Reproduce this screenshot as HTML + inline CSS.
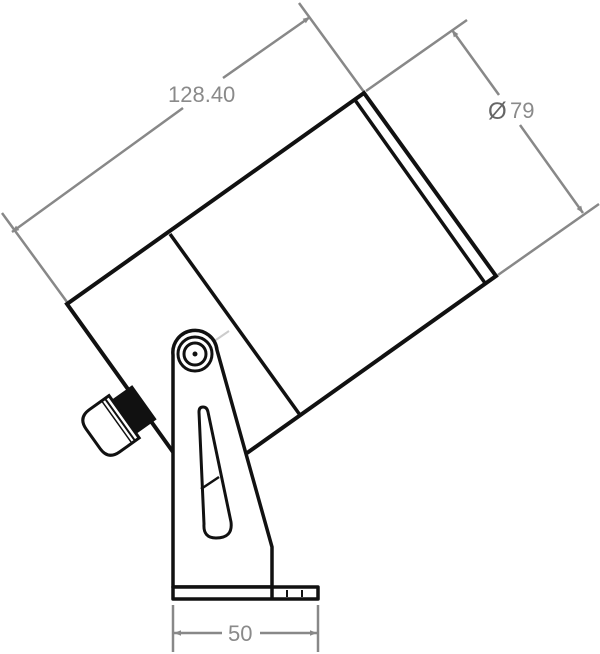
<!DOCTYPE html>
<html><head><meta charset="utf-8"><style>
html,body{margin:0;padding:0;background:#fff;}
svg{display:block;}
text{font-family:"Liberation Sans",sans-serif;fill:#8a8a8a;}
</style></head><body>
<svg width="600" height="654" viewBox="0 0 600 654" xmlns="http://www.w3.org/2000/svg">
<defs>
<marker id="ar" viewBox="0 0 10 10" refX="10" refY="5" markerWidth="12" markerHeight="7" orient="auto-start-reverse" markerUnits="userSpaceOnUse">
<path d="M0,1 L10,5 L0,9 Z" fill="#888"/>
</marker>
</defs>
<g stroke="#888" stroke-width="2.5" fill="none">
<line x1="67" y1="302" x2="2" y2="213"/>
<line x1="364" y1="92" x2="299" y2="3"/>
<line x1="12" y1="232" x2="183" y2="108" marker-start="url(#ar)"/>
<line x1="223" y1="78" x2="310" y2="17" marker-end="url(#ar)"/>
<line x1="366" y1="91" x2="467" y2="20"/>
<line x1="498" y1="275" x2="599" y2="204"/>
<line x1="452" y1="30" x2="499" y2="95" marker-start="url(#ar)"/>
<line x1="520" y1="125" x2="583" y2="213" marker-end="url(#ar)"/>
<line x1="173" y1="605" x2="173" y2="652"/>
<line x1="318" y1="605" x2="318" y2="652"/>
<line x1="174" y1="633" x2="222" y2="633" marker-start="url(#ar)"/>
<line x1="260" y1="633" x2="317" y2="633" marker-end="url(#ar)"/>
<line x1="210" y1="344" x2="229" y2="331" stroke="#ccc" stroke-width="2"/>
</g>
<text x="168" y="102" font-size="22">128.40</text>
<text x="488" y="119" font-size="24" style="fill:#666">Ø</text><text x="510" y="118" font-size="22">79</text>
<text x="228" y="641" font-size="22">50</text>
<g stroke="#111" stroke-width="4" fill="none" stroke-linejoin="miter">
<polyline points="173,452 67,304 364,93 496,276 247,453"/>
<line x1="355" y1="100" x2="485" y2="283" stroke-width="3.5"/>
<line x1="170" y1="234" x2="300" y2="415" stroke-width="3.5"/>
</g>
<g transform="translate(142,404) rotate(144.5)">
<path d="M-3,-21 L22,-21 L22,21 L-3,21 Z" fill="#111"/>
<path d="M22,-26 L46,-26 Q60,-26 60,-12 L60,12 Q60,26 46,26 L22,26 Z" fill="#fff" stroke="#111" stroke-width="3"/>
<line x1="27" y1="-25" x2="27" y2="25" stroke="#111" stroke-width="2"/>
<line x1="31" y1="-25" x2="31" y2="25" stroke="#111" stroke-width="1.5"/>
</g>
<g stroke="#111" stroke-width="3.5" fill="#fff" stroke-linejoin="round">
<path d="M173,587 L173,355 A22,22 0 0 1 217,350 L272,547 L272,587 Z"/>
<rect x="173" y="587" width="145" height="12" stroke-width="3.5"/>
<line x1="272" y1="587" x2="272" y2="599"/>
<line x1="287" y1="590" x2="287" y2="597" stroke-width="2"/>
<line x1="302" y1="590" x2="302" y2="597" stroke-width="2"/>
<circle cx="195" cy="354" r="17" stroke-width="3"/>
<circle cx="195" cy="354" r="11" stroke-width="3"/>
<circle cx="195" cy="354" r="2" fill="#111" stroke-width="1"/>
<path d="M199,412 Q199,407 203,407 Q207,407 208,412 L231,522 Q233,538 216,538 Q203,538 204,524 Z" stroke-width="3"/>
<line x1="201" y1="489" x2="219" y2="477" stroke-width="2.5"/>
</g>
</svg>
</body></html>
